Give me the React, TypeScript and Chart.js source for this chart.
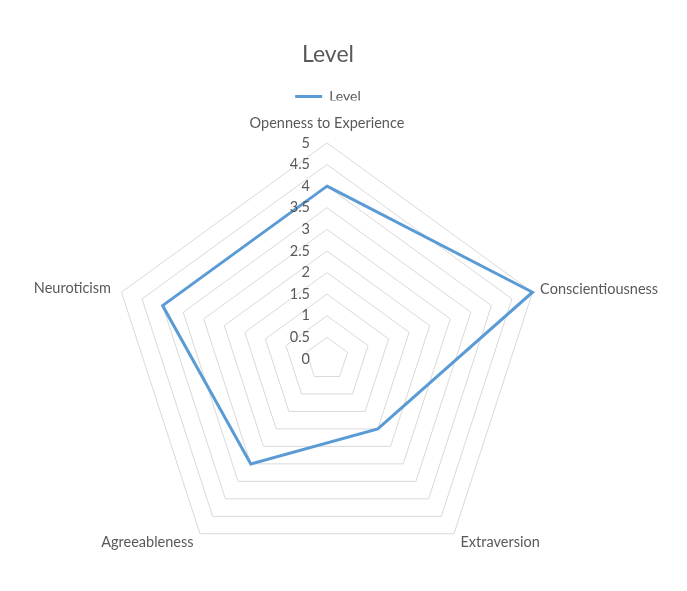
import React, { useEffect, useRef } from "react";
import { Chart, registerables } from "chart.js";

Chart.register(...registerables);

const categories = [
  "Openness to Experience",
  "Conscientiousness",
  "Extraversion",
  "Agreeableness",
  "Neuroticism",
];
const levelValues = [4, 5, 2, 3, 4];
const tickValues = [0, 0.5, 1, 1.5, 2, 2.5, 3, 3.5, 4, 4.5, 5];
const seriesName = "Level";
const titleText = "Level";

const FONT = "Lato, 'Open Sans', sans-serif";
const TEXT_COLOR = "#595959";
const LINE_COLOR = "#5b9bd5";

const tickPlugin = {
  id: "leftTicks",
  afterDatasetsDraw(chart: any) {
    const scale = chart.scales.r;
    const ctx = chart.ctx;
    ctx.save();
    ctx.font = `14.5px ${FONT}`;
    ctx.fillStyle = TEXT_COLOR;
    ctx.textAlign = "right";
    ctx.textBaseline = "middle";
    for (const v of tickValues) {
      const d = scale.getDistanceFromCenterForValue(v);
      ctx.fillText(String(v), scale.xCenter - 17, scale.yCenter - d);
    }
    ctx.restore();
  },
};

export default function App() {
  const ref = useRef<HTMLCanvasElement>(null);
  useEffect(() => {
    if (!ref.current) return;
    const chart = new Chart(ref.current, {
      type: "radar",
      data: {
        labels: categories,
        datasets: [
          {
            label: seriesName,
            data: levelValues,
            borderColor: LINE_COLOR,
            backgroundColor: LINE_COLOR,
            borderWidth: 3,
            fill: false,
            pointRadius: 0,
            pointHoverRadius: 0,
            tension: 0,
          },
        ],
      },
      options: {
        animation: false,
        responsive: true,
        maintainAspectRatio: false,
        layout: { padding: { top: 0, bottom: 0, left: -26, right: 5 } },
        plugins: {
          title: {
            display: true,
            text: titleText,
            color: TEXT_COLOR,
            font: { family: FONT, size: 23, weight: "normal" },
            padding: { top: 33, bottom: 11 },
          },
          legend: {
            display: true,
            position: "top",
            maxHeight: 21,
            labels: {
              color: TEXT_COLOR,
              font: { family: FONT, size: 14 },
              boxWidth: 27,
              boxHeight: 3,
              padding: 10,
              generateLabels: (c: any) =>
                Chart.defaults.plugins.legend.labels
                  .generateLabels(c)
                  .map((l: any) => ({ ...l, lineWidth: 0 })),
            },
          },
          tooltip: { enabled: false },
        },
        scales: {
          r: {
            min: 0,
            max: 5,
            ticks: { stepSize: 0.5, display: false },
            grid: { color: "#d9d9d9", lineWidth: 1 },
            angleLines: { display: false },
            pointLabels: {
              color: TEXT_COLOR,
              font: (ctx: any) => ({
                family: FONT,
                size: 14.5,
                lineHeight: ctx.index === 0 ? 1.16 : 0.01,
              }),
              padding: (ctx: any) =>
                ctx.index === 0 ? 11.5 : ctx.index === 1 ? 8 : 11,
            },
          },
        },
      },
      plugins: [tickPlugin],
    });
    return () => chart.destroy();
  }, []);
  return (
    <div style={{ width: 671, height: 583, marginBottom: -8, position: "relative" }}>
      <canvas ref={ref} />
    </div>
  );
}
